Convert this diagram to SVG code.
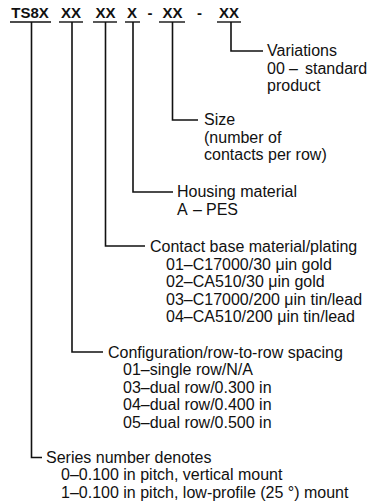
<svg xmlns="http://www.w3.org/2000/svg" width="381" height="502" viewBox="0 0 381 502">
<style>
text{font-family:"Liberation Sans",Arial,Helvetica,sans-serif;font-size:16px;fill:#111}
.h{font-weight:bold;font-size:15px}
.c{text-anchor:middle}
.ln{fill:none;stroke:#111;stroke-width:1.6}
.ul{stroke:#111;stroke-width:1.4}
</style>
<rect width="381" height="502" fill="#fff"/>
<g id="code">
<text class="h c" x="30" y="18">TS8X</text>
<text class="h c" x="71" y="18">XX</text>
<text class="h c" x="105.5" y="18">XX</text>
<text class="h c" x="132" y="18">X</text>
<text class="h c" x="150" y="18">-</text>
<text class="h c" x="172.5" y="18">XX</text>
<text class="h c" x="199.5" y="18">-</text>
<text class="h c" x="229" y="18">XX</text>
<line class="ul" x1="10" y1="22" x2="51" y2="22"/>
<line class="ul" x1="59" y1="22" x2="83" y2="22"/>
<line class="ul" x1="93" y1="22" x2="117" y2="22"/>
<line class="ul" x1="125" y1="22" x2="140" y2="22"/>
<line class="ul" x1="159" y1="22" x2="185" y2="22"/>
<line class="ul" x1="217" y1="22" x2="241" y2="22"/>
</g>
<g id="connectors">
<polyline class="ln" points="231,22 231,51 263,51"/>
<polyline class="ln" points="172.5,22 172.5,120 198,120"/>
<polyline class="ln" points="133,22 133,192 173,192"/>
<polyline class="ln" points="105.5,22 105.5,246 145,246"/>
<polyline class="ln" points="72,22 72,352 103,352"/>
<polyline class="ln" points="31.5,22 31.5,457.5 42,457.5"/>
</g>
<g id="variations">
<text x="267" y="56">Variations</text>
<text x="267" y="73.5">00<tspan x="289">–</tspan><tspan x="305">standard</tspan></text>
<text x="267" y="91">product</text>
</g>
<g id="size">
<text x="204" y="125">Size</text>
<text x="204" y="142.5">(number of</text>
<text x="204" y="160">contacts per row)</text>
</g>
<g id="housing">
<text x="177" y="197">Housing material</text>
<text x="177" y="214.5">A<tspan x="193">–</tspan><tspan x="206">PES</tspan></text>
</g>
<g id="contact">
<text x="150" y="252">Contact base material/plating</text>
<text x="166" y="269.5">01–C17000/30 μin gold</text>
<text x="166" y="287">02–CA510/30 μin gold</text>
<text x="166" y="304.5">03–C17000/200 μin tin/lead</text>
<text x="166" y="322">04–CA510/200 μin tin/lead</text>
</g>
<g id="configuration">
<text x="108" y="357.5">Configuration/row-to-row spacing</text>
<text x="123" y="375">01–single row/N/A</text>
<text x="123" y="392.5">03–dual row/0.300 in</text>
<text x="123" y="410">04–dual row/0.400 in</text>
<text x="123" y="427.5">05–dual row/0.500 in</text>
</g>
<g id="series">
<text x="46" y="462.5">Series number denotes</text>
<text x="61" y="480">0–0.100 in pitch, vertical mount</text>
<text x="61" y="497.5">1–0.100 in pitch, low-profile (25 °) mount</text>
</g>
</svg>
